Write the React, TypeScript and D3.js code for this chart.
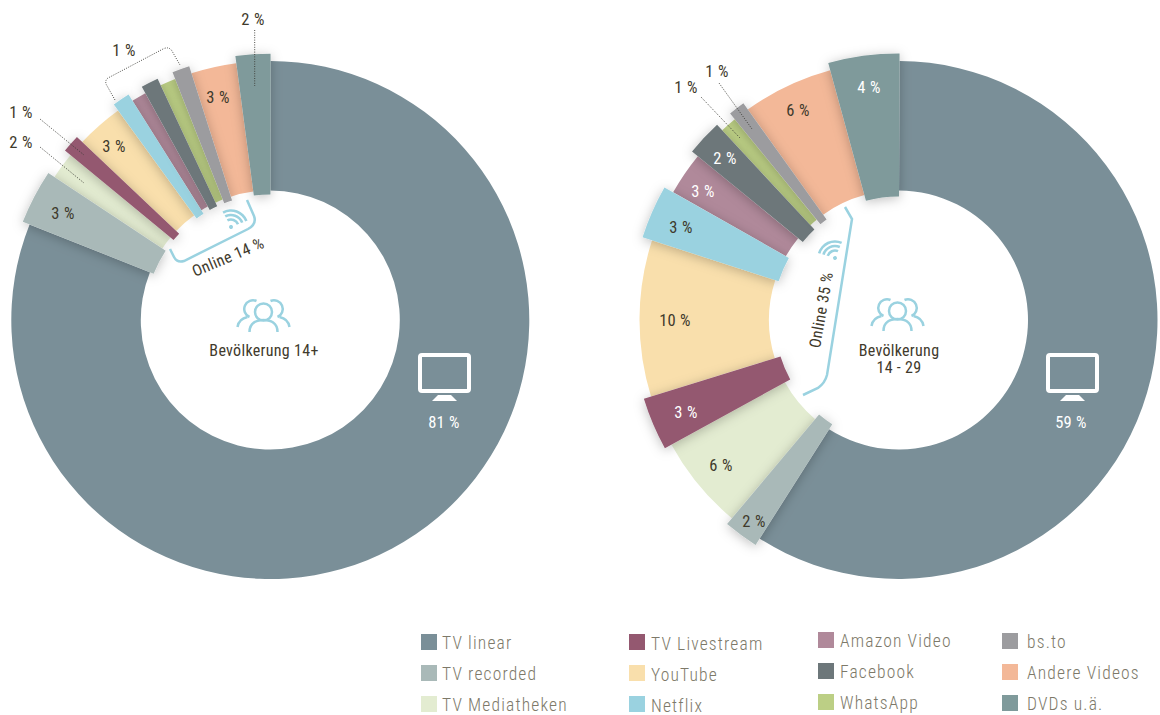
import React from "react";
import * as d3 from "d3";

const categories = ["TV linear","TV recorded","TV Mediatheken","TV Livestream","YouTube","Netflix","Amazon Video","Facebook","WhatsApp","bs.to","Andere Videos","DVDs u.ä."];
const colors = ["#7a8f98","#a9b9b8","#e3ecd1","#945870","#f9dfac","#9ad2e0","#b0899a","#6d777a","#bccf85","#9c9c9f","#f3b898","#7f9a9b"];
const totalShares = [81,3.3,1.67,1.08,2.94,1.06,0.92,1.06,0.97,1.06,2.83,2.11];
const youngShares = [58.94,2.11,5.89,3.22,9.75,3.22,2.69,2.19,1.03,1.0,5.64,4.31];
const raised = [false,true,false,true,false,true,false,true,false,true,false,true];

const INK = "#3f3a2c";
const SKY = "#9ad2e0";
const FONT = "'Liberation Sans Narrow','Roboto Condensed','Liberation Sans',sans-serif";

type Lab = [string, number, number, string?];
const leftLabels: Lab[] = [["3 %",63,213],["2 %",21,142],["1 %",21,112],["3 %",114,146],["1 %",124,50],["3 %",218,97],["2 %",253,19],["81 %",444,422,"#fff"]];
const rightLabels: Lab[] = [["4 %",869,87,"#fff"],["6 %",798,110],["1 %",717,71],["1 %",686,87],["2 %",725,158,"#fff"],["3 %",703,191,"#fff"],["3 %",681,227],["10 %",675,320],["3 %",686,412,"#fff"],["6 %",721,465],["2 %",754,521],["59 %",1071,422,"#fff"]];

const leftLeaders = ["M254.7,30V86","M40,119L84,155","M40,147L84,183","M115,100L106,84Q105,80 108,78L163,49Q169,46 172,51L180,65"];
const rightLeaders = ["M719,83L752,129","M701,97L740,138"];

const legendCols: [number, number, number, number[], number][] = [
  [421,442,634,[0,1,2],0],
  [629,651,634,[3,4,5],1],
  [818,840,632,[6,7,8],0],
  [1002,1027,633,[9,10,11],0],
];

function Donut({ cx, cy, shares, r0, r1, hi0, hi1, turn, boost }: { cx:number; cy:number; shares:number[]; r0:number; r1:number; hi0:number; hi1:number; turn:number; boost:number }) {
  const pie = d3.pie<number>().sort(null).value(d => d).startAngle(turn).endAngle(turn + 2 * Math.PI);
  const arcs = pie(shares);
  const order = arcs.map((_, i) => i).sort((a, b) => Number(raised[a]) - Number(raised[b]));
  return (
    <g transform={`translate(${cx},${cy})`}>
      {order.map(i => {
        const a = arcs[i];
        const up = raised[i];
        const extra = i === 5 ? boost : 0;
        const d = d3.arc<any>().innerRadius(up ? hi0 + extra : r0).outerRadius(up ? hi1 + extra : r1)(a) as string;
        return <path key={i} d={d} fill={colors[i]} filter={up ? "url(#soft)" : undefined} />;
      })}
    </g>
  );
}

function Wifi({ x, y, rot }: { x:number; y:number; rot:number }) {
  const arc = d3.arc<any>();
  const rings = [7.5, 12, 16.5].map(r => arc({ innerRadius: r - 1.3, outerRadius: r + 1.3, startAngle: -0.85, endAngle: 0.85 }) as string);
  return (
    <g transform={`translate(${x},${y}) rotate(${rot})`} fill={SKY}>
      <circle r={2} />
      {rings.map((d, i) => <path key={i} d={d} />)}
    </g>
  );
}

function People({ x, y }: { x:number; y:number }) {
  return (
    <g transform={`translate(${x},${y})`} fill="none" stroke={SKY} strokeWidth={2.5}>
      <circle cx={0} cy={0} r={8.5} />
      <path d="M-14,20C-14,11 -7,8 0,8C7,8 14,11 14,20" />
      <path d="M-7,-11A8.5,8.5 0 1 0 -14,5" />
      <path d="M7,-11A8.5,8.5 0 1 1 14,5" />
      <path d="M-26,15C-25,9 -21,6 -16,5" />
      <path d="M26,15C25,9 21,6 16,5" />
    </g>
  );
}

function Screen({ x, y }: { x:number; y:number }) {
  return (
    <g transform={`translate(${x},${y})`}>
      <rect x={2} y={2} width={49} height={36} rx={2} fill="none" stroke="#fff" strokeWidth={4} />
      <path d="M20,42H33L39,48H14Z" fill="#fff" />
    </g>
  );
}

function Labels({ items }: { items: Lab[] }) {
  return (
    <g fontFamily={FONT} fontSize={16.5} textAnchor="middle">
      {items.map(([t, x, y, c], i) => (
        <text key={i} x={x} y={y} dy="0.35em" fill={c ?? INK} letterSpacing={0.3}>{t}</text>
      ))}
    </g>
  );
}

export default function App() {
  return (
    <svg width={1160} height={715} style={{ position: "absolute", left: 0, top: 0, background: "#fff" }}>
      <defs>
        <filter id="soft" x="-40%" y="-40%" width="180%" height="180%">
          <feDropShadow dx={0} dy={2} stdDeviation={6} floodColor="#000" floodOpacity={0.25} />
        </filter>
      </defs>

      <Donut cx={270.3} cy={320} shares={totalShares} r0={129.5} r1={259} hi0={125.5} hi1={266.3} turn={0.001} boost={0} />
      <Donut cx={898.5} cy={320} shares={youngShares} r0={129.5} r1={259} hi0={123.5} hi1={266.5} turn={0.004} boost={2.5} />

      <g fill="none" stroke="#3a3a34" strokeWidth={0.9} strokeDasharray="1 1.4">
        {[...leftLeaders, ...rightLeaders].map((d, i) => <path key={i} d={d} />)}
      </g>

      <Labels items={leftLabels} />
      <Labels items={rightLabels} />

      <g fill="none" stroke={SKY} strokeWidth={2.5}>
        <path d="M170,249L174,257Q177,263 184,261L248,229Q257,224 254,216L247,200" />
        <path d="M845,207L852,219L827,375Q825,383 818,388L803,395" />
      </g>
      <Wifi x={231} y={227} rot={20} />
      <Wifi x={835} y={258} rot={-25} />

      <g fontFamily={FONT} fontSize={16} fill={INK} textAnchor="middle">
        <text transform="translate(228,257) rotate(-23)" dy="0.35em" letterSpacing={0.3}>Online 14 %</text>
        <text transform="translate(821,310) rotate(-80)" dy="0.35em" letterSpacing={0.3}>Online 35 %</text>
        <text x={264} y={350} dy="0.35em" letterSpacing={0.3}>Bevölkerung 14+</text>
        <text x={899} y={350} dy="0.35em" letterSpacing={0.3}>Bevölkerung</text>
        <text x={899} y={367} dy="0.35em" letterSpacing={0.3}>14 - 29</text>
      </g>

      <People x={263.5} y={312} />
      <People x={897.5} y={311} />
      <Screen x={418} y={353} />
      <Screen x={1046} y={353} />

      <g>
        {legendCols.map(([sx, tx, y0, ids, nudge], c) => (
          <g key={c}>
            {ids.map((id, r) => {
              const y = y0 + r * 31;
              return (
                <g key={id}>
                  <rect x={sx} y={y} width={16} height={16} fill={colors[id]} />
                  <text x={tx} y={y + 9 + nudge} dy="0.35em" fontFamily={FONT} fontWeight={300} fontSize={17.5} letterSpacing={1.15} fill="#7d7969">{categories[id]}</text>
                </g>
              );
            })}
          </g>
        ))}
      </g>
    </svg>
  );
}
